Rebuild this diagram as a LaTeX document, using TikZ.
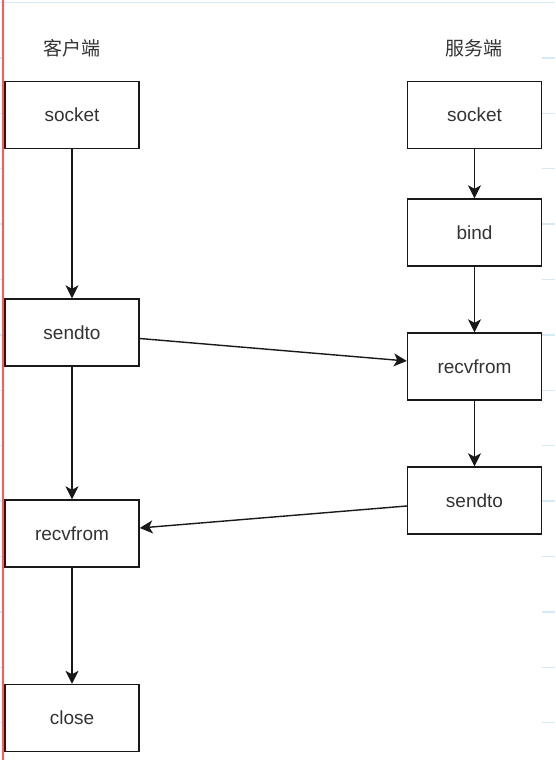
\documentclass[tikz,border=0pt]{standalone}
\usepackage{fontspec}
\setmainfont{Liberation Sans}
\newfontfamily\cjk{Noto Sans CJK SC}
\usetikzlibrary{arrows.meta}
\definecolor{txtgray}{HTML}{333333}
\definecolor{gridblue}{HTML}{D4EAF7}
\definecolor{edgered}{HTML}{FF5A5A}

\begin{document}
\begin{tikzpicture}[x=1pt,y=-1pt,
    callbox/.style={draw=black!90,line width=1.4pt,minimum width=134pt,minimum height=67pt,
      inner sep=0pt,text=txtgray,font=\fontsize{19}{22}\selectfont},
    sidelabel/.style={text=txtgray,font=\cjk\fontsize{19}{22}\selectfont},
    arr/.style={-{Stealth[length=13pt,width=13pt,inset=3.5pt]},line width=1.4pt,draw=black!90}]

  \useasboundingbox (0,0) rectangle (555,760);
  % screen edge marks
  \draw[gridblue,line width=1pt] (0,2.5) -- (555,2.5);
  \foreach \k in {1,...,13} {
    \draw[gridblue,line width=1.5pt] (542,2.5+55.4*\k) -- (555,2.5+55.4*\k);
    \draw[gridblue,line width=1.5pt] (0,2.5+55.4*\k) -- (3,2.5+55.4*\k);
  }
  \draw[edgered,line width=1.2pt] (3,0) -- (3,760);

  % titles
  \node[sidelabel] (client) at (72,48) {客户端};
  \node[sidelabel] (server) at (474,48) {服务端};

  % client side
  \node[callbox] (sockL) at (72,115) {socket};
  \node[callbox] (sendL) at (72,332.5) {sendto};
  \node[callbox] (recvL) at (72,533.5) {recvfrom};
  \node[callbox] (closeL) at (72,718) {close};

  % server side
  \node[callbox] (sockR) at (474.5,115) {socket};
  \node[callbox] (bindR) at (474.5,232.5) {bind};
  \node[callbox] (recvR) at (474.5,366.5) {recvfrom};
  \node[callbox] (sendR) at (474.5,500.5) {sendto};

  \draw[arr] (sockL) -- (sendL);
  \draw[arr] (sendL) -- (recvL);
  \draw[arr] (recvL) -- (closeL);
  \draw[arr] (sockR) -- (bindR);
  \draw[arr] (bindR) -- (recvR);
  \draw[arr] (recvR) -- (sendR);

  \draw[arr] ([yshift=-6pt]sendL.east) -- ([yshift=5.5pt]recvR.west);
  \draw[arr] ([yshift=-5.5pt]sendR.west) -- ([yshift=5.5pt]recvL.east);
\end{tikzpicture}
\end{document}
